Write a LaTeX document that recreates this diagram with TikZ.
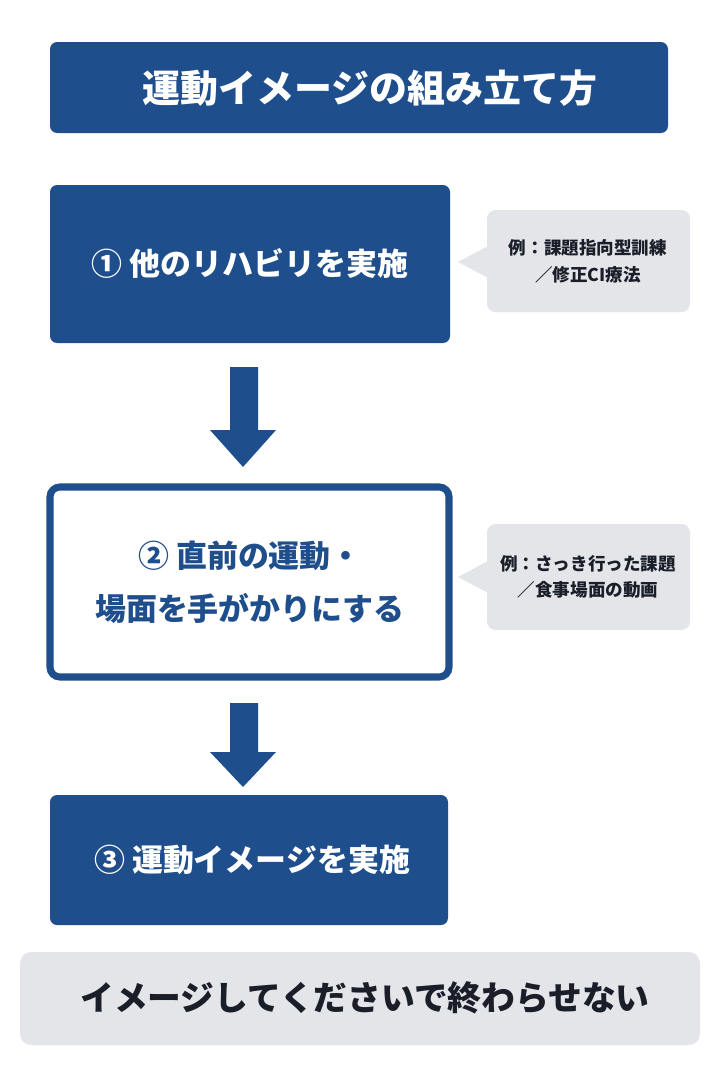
\documentclass[tikz,border=0pt]{standalone}
\usepackage{fontspec}
\setmainfont{Noto Sans CJK JP}
\usetikzlibrary{positioning,calc}
\definecolor{mtblue}{RGB}{31,78,140}
\definecolor{mtgray}{RGB}{227,229,233}
\definecolor{mtink}{RGB}{25,30,40}
\tikzset{
  stepbox/.style={fill=mtblue, rounded corners=5pt, text=white, font=\bfseries},
  notebox/.style={fill=mtgray, rounded corners=6pt, text=mtink, font=\bfseries\fontsize{12.5}{19}\selectfont, align=center},
  blockarrow/.style={fill=mtblue}
}
\begin{document}
\begin{tikzpicture}[x={(0.025cm,0)}, y={(0,-0.025cm)}]
  \useasboundingbox[fill=white] (0,0) rectangle (720,1080);

  % Title
  \fill[stepbox] (50,42) rectangle (668,133);
  \node[text=white, font=\bfseries\fontsize{27}{32}\selectfont] (title) at (370,88) {運動イメージの組み立て方};

  % Step 1
  \fill[stepbox] (50,185) rectangle (450,343);
  \node[text=white, font=\bfseries\fontsize{22}{28}\selectfont] (step1) at (250,264) {① 他のリハビリを実施};

  % Note 1
  \fill[notebox] (487,210) rectangle (690,312);
  \fill[mtgray] (490,245) -- (458,262) -- (490,279) -- cycle;
  \node[notebox] (note1) at (588,261) {例：課題指向型訓練\\／修正CI療法};

  % Arrow 1
  \fill[blockarrow] (230,367) -- (258,367) -- (258,430) -- (276,430) -- (243,467)
    -- (210,430) -- (230,430) -- cycle;

  % Step 2
  \draw[mtblue, line width=5pt, fill=white, rounded corners=7pt] (50,487) rectangle (449,677);
  \node[text=mtblue, font=\bfseries\fontsize{22}{38}\selectfont, align=center] (step2) at (250,582) {② 直前の運動・\\場面を手がかりにする};

  % Note 2
  \fill[notebox] (487,524) rectangle (690,630);
  \fill[mtgray] (490,560) -- (458,577) -- (490,594) -- cycle;
  \node[notebox] (note2) at (588,577) {例：さっき行った課題\\／食事場面の動画};

  % Arrow 2
  \fill[blockarrow] (230,703) -- (258,703) -- (258,752) -- (276,752) -- (243,787)
    -- (210,752) -- (230,752) -- cycle;

  % Step 3
  \fill[stepbox] (50,795) rectangle (448,925);
  \node[text=white, font=\bfseries\fontsize{22}{28}\selectfont] (step3) at (252,860) {③ 運動イメージを実施};

  % Bottom line
  \fill[mtgray, rounded corners=8pt] (20,952) rectangle (700,1045);
  \node[text=mtink, font=\bfseries\fontsize{24}{30}\selectfont] (closing) at (365,998) {イメージしてくださいで終わらせない};
\end{tikzpicture}
\end{document}
